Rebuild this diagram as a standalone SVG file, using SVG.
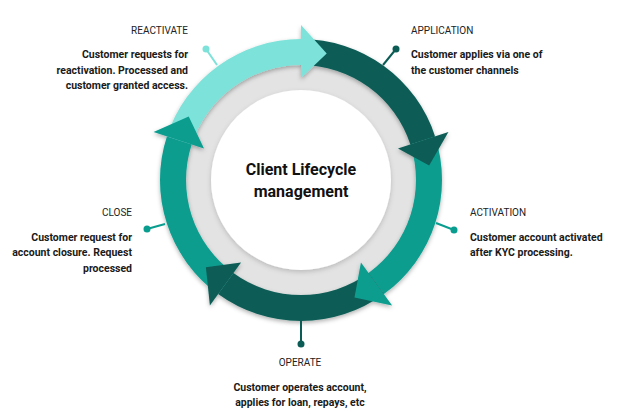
<svg xmlns="http://www.w3.org/2000/svg" width="640" height="419" viewBox="0 0 640 419">
  <defs>
    <filter id="shadow" x="-20%" y="-20%" width="140%" height="140%">
      <feDropShadow dx="0" dy="2" stdDeviation="2" flood-color="#000" flood-opacity="0.3"/>
    </filter>
    <filter id="softshadow" x="-20%" y="-20%" width="140%" height="140%">
      <feDropShadow dx="0" dy="2" stdDeviation="2.5" flood-color="#000" flood-opacity="0.18"/>
    </filter>
  </defs>
  <style>
    .lbl { font-family: Roboto, "Liberation Sans", sans-serif; font-size: 10px; fill: #222; }
    .desc { font-family: Roboto, "Liberation Sans", sans-serif; font-size: 10.5px; font-weight: 700; fill: #1a1a1a; }
    .center { font-family: Roboto, "Liberation Sans", sans-serif; font-size: 16px; font-weight: 700; fill: #111; text-anchor: middle; }
    .light { fill: #7de2d9; }
    .dark { fill: #0a5c55; }
    .teal { fill: #089d8f; }
    .lline { stroke: #7de2d9; }
    .dline { stroke: #0a5c55; }
    .tline { stroke: #089d8f; }
    .conn line { stroke-width: 2; }
  </style>
  <rect width="640" height="419" fill="#ffffff"/>

  <!-- hub -->
  <g id="hub">
    <circle cx="301" cy="180" r="128" fill="#e3e3e3"/>
    <circle cx="301" cy="180" r="90" fill="#ffffff" filter="url(#softshadow)"/>
    <text class="center" x="301" y="175">Client Lifecycle</text>
    <text class="center" x="301" y="197">management</text>
  </g>

  <!-- arrow bodies -->
  <g filter="url(#shadow)">
    <g id="reactivate-arc">
      <path class="light" d="M166.90,136.43 A141,141 0 0 1 301,39 L301,65 A115,115 0 0 0 191.63,144.46 Z"/>
    </g>
    <g id="application-arc">
      <path class="dark" d="M301,39 A141,141 0 0 1 435.10,136.43 L410.37,144.46 A115,115 0 0 0 301,65 Z"/>
    </g>
    <g id="activation-arc">
      <path class="teal" d="M435.10,136.43 A141,141 0 0 1 383.88,294.07 L368.60,273.04 A115,115 0 0 0 410.37,144.46 Z"/>
    </g>
    <g id="operate-arc">
      <path class="dark" d="M383.88,294.07 A141,141 0 0 1 218.12,294.07 L233.40,273.04 A115,115 0 0 0 368.60,273.04 Z"/>
    </g>
    <g id="close-arc">
      <path class="teal" d="M218.12,294.07 A141,141 0 0 1 166.90,136.43 L191.63,144.46 A115,115 0 0 0 233.40,273.04 Z"/>
    </g>
    <!-- heads -->
    <polygon class="light" points="301,78 301,25 326.72,53.59"/>
    <polygon class="dark" points="398.01,148.48 448.41,132.10 429.17,165.40"/>
    <polygon class="teal" points="360.95,262.52 392.11,305.40 354.50,297.38"/>
    <polygon class="dark" points="241.05,262.52 209.89,305.40 205.89,267.15"/>
    <polygon class="teal" points="203.99,148.48 153.59,132.10 188.72,116.48"/>
  </g>

  <!-- connectors -->
  <g id="connectors" class="conn">
    <line class="lline" x1="217" y1="65" x2="206" y2="49"/>
    <circle class="light" cx="206" cy="49" r="3.5"/>
    <line class="dline" x1="383" y1="65" x2="396" y2="49"/>
    <circle class="dark" cx="396" cy="49" r="3.5"/>
    <line class="tline" x1="436" y1="223" x2="454" y2="230"/>
    <circle class="teal" cx="454" cy="230" r="3.5"/>
    <line class="dline" x1="301" y1="321" x2="301" y2="344"/>
    <circle class="dark" cx="301" cy="344" r="3.5"/>
    <line class="tline" x1="165" y1="224" x2="147" y2="229"/>
    <circle class="teal" cx="147" cy="229" r="3.5"/>
  </g>

  <!-- labels -->
  <g id="reactivate" text-anchor="end">
    <text class="lbl" x="188" y="34">REACTIVATE</text>
    <text class="desc" x="188" y="58">Customer requests for</text>
    <text class="desc" x="188" y="73.5">reactivation. Processed and</text>
    <text class="desc" x="188" y="89">customer granted access.</text>
  </g>
  <g id="application">
    <text class="lbl" x="411" y="34">APPLICATION</text>
    <text class="desc" x="411" y="58">Customer applies via one of</text>
    <text class="desc" x="411" y="73.5">the customer channels</text>
  </g>
  <g id="activation">
    <text class="lbl" x="470" y="216">ACTIVATION</text>
    <text class="desc" x="470" y="240.5">Customer account activated</text>
    <text class="desc" x="470" y="256">after KYC processing.</text>
  </g>
  <g id="close" text-anchor="end">
    <text class="lbl" x="132" y="216">CLOSE</text>
    <text class="desc" x="132" y="240.5">Customer request for</text>
    <text class="desc" x="132" y="256">account closure. Request</text>
    <text class="desc" x="132" y="271.5">processed</text>
  </g>
  <g id="operate" text-anchor="middle">
    <text class="lbl" x="300" y="366">OPERATE</text>
    <text class="desc" x="300" y="391">Customer operates account,</text>
    <text class="desc" x="300" y="406">applies for loan, repays, etc</text>
  </g>
</svg>
